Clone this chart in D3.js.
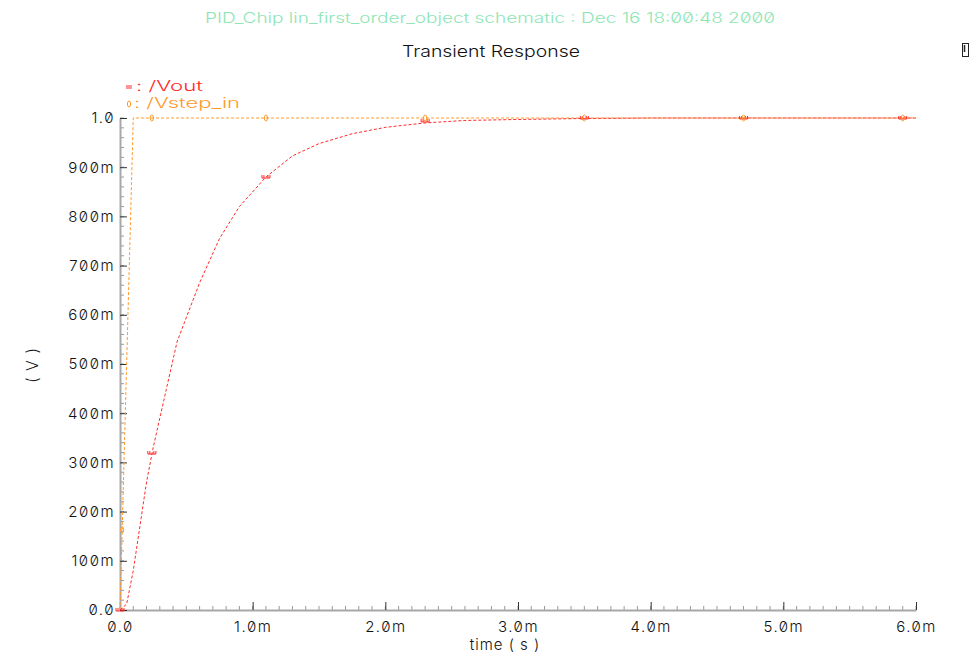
<!DOCTYPE html>
<html>
<head>
<meta charset="utf-8">
<script src="https://cdn.jsdelivr.net/npm/d3@7"></script>
<style>
  body { margin: 0; background: #fff; }
  text { font-family: Inter, "DejaVu Sans", sans-serif; font-weight: 300; font-feature-settings: "zero" 1; }
</style>
</head>
<body>
<script>
// header texts
const header = "PID_Chip lin_first_order_object schematic : Dec 16 18:00:48 2000";
const title = "Transient Response";

// Vout trace (time in ms, volts)
const voutT = [0, 0.05, 0.1, 0.15, 0.2, 0.25, 0.3, 0.43, 0.6, 0.75, 0.9, 1.1, 1.3, 1.5, 1.75, 2.0, 2.3, 2.6, 3.0, 3.5, 4.0, 5.0, 6.0];
const voutV = [0, 0.012, 0.08, 0.17, 0.26, 0.33, 0.39, 0.545, 0.665, 0.755, 0.82, 0.88, 0.923, 0.948, 0.968, 0.981, 0.99, 0.995, 0.997, 0.999, 1.0, 1.0, 1.0];
// Vstep_in trace
const vinT = [0, 0.1, 6.0];
const vinV = [0, 1.0, 1.0];

// marker positions
const voutMarkT = [0, 0.24, 1.1, 2.3, 3.5, 4.7, 5.9];
const voutMarkV = [0, 0.319, 0.88, 0.994, 1.0, 1.0, 1.0];
const vinMarkT = [0.016, 0.24, 1.1, 2.3, 3.5, 4.7, 5.9];
const vinMarkV = [0.163, 1.0, 1.0, 1.0, 1.0, 1.0, 1.0];

// tick labels
const xTicks = [0, 1, 2, 3, 4, 5, 6];
const xTickLabels = ["0.0", "1.0m", "2.0m", "3.0m", "4.0m", "5.0m", "6.0m"];
const yTicks = [0, 0.1, 0.2, 0.3, 0.4, 0.5, 0.6, 0.7, 0.8, 0.9, 1.0];
const yTickLabels = ["0.0", "100m", "200m", "300m", "400m", "500m", "600m", "700m", "800m", "900m", "1.0"];

const w = 977, h = 662;
const red = "#ff2a2a", orange = "#ff9a2a";

let svg = d3.select("body").append("svg")
  .attr("width", w).attr("height", h);

let x = d3.scaleLinear().domain([0, 6]).range([120, 916]);
let y = d3.scaleLinear().domain([0, 1]).range([610, 118]);

// header and title
svg.append("text").attr("x", 490).attr("y", 23)
  .attr("text-anchor", "middle").attr("fill", "#8ee6b4")
  .style("font-size", "14px").attr("textLength", 570).attr("lengthAdjust", "spacingAndGlyphs")
  .text(header);
svg.append("text").attr("x", 491).attr("y", 57)
  .attr("text-anchor", "middle").attr("fill", "#111")
  .style("font-size", "16px").attr("textLength", 178).attr("lengthAdjust", "spacingAndGlyphs")
  .text(title);

// little icon at top right
svg.append("rect").attr("x", 962.5).attr("y", 43.5).attr("width", 6).attr("height", 13)
  .attr("fill", "none").attr("stroke", "#222").attr("stroke-width", 1);
svg.append("line").attr("x1", 964.5).attr("x2", 964.5).attr("y1", 45).attr("y2", 52)
  .attr("stroke", "#222").attr("stroke-width", 1.5);

// minor ticks
let xMinor = d3.range(0, 61).map(d => d / 10);
let yMinor = d3.range(0, 51).map(d => d / 50);
svg.append("g").selectAll("line").data(xMinor).enter().append("line")
  .attr("x1", d => x(d)).attr("x2", d => x(d))
  .attr("y1", 610).attr("y2", 606)
  .attr("stroke", "#999").attr("stroke-width", 1);
svg.append("g").selectAll("line").data(yMinor).enter().append("line")
  .attr("x1", 120).attr("x2", 124)
  .attr("y1", d => y(d)).attr("y2", d => y(d))
  .attr("stroke", "#999").attr("stroke-width", 1);

// axes
let xAxis = d3.axisBottom(x).tickValues(xTicks).tickSizeInner(-8).tickSizeOuter(0)
  .tickPadding(11).tickFormat((d, i) => xTickLabels[i]);
let yAxis = d3.axisLeft(y).tickValues(yTicks).tickSizeInner(-7).tickSizeOuter(0)
  .tickPadding(4).tickFormat((d, i) => yTickLabels[i]);

let gx = svg.append("g").attr("transform", "translate(0,610)").call(xAxis);
let gy = svg.append("g").attr("transform", "translate(120,0)").call(yAxis);
[gx, gy].forEach(function(g) {
  g.select(".domain").attr("stroke", "#a8a8a8").attr("stroke-width", 2);
  g.selectAll(".tick line").attr("stroke", "#333").attr("stroke-width", 1);
  g.selectAll(".tick text").attr("fill", "#111").style("font-size", "15px")
    .style("font-weight", "300").style("letter-spacing", "1.5px");
});
gy.selectAll(".tick text").attr("dx", "-1");

// axis labels
svg.append("text").attr("x", 505).attr("y", 650)
  .attr("text-anchor", "middle").attr("fill", "#111").style("font-size", "15px")
  .style("letter-spacing", "1px").text("time ( s )");
svg.append("text").attr("transform", "translate(38,365) rotate(-90)")
  .attr("text-anchor", "middle").attr("fill", "#111").style("font-size", "16px")
  .style("letter-spacing", "1px").text("( V )");

// traces
let line = d3.line().x(d => x(d[0])).y(d => y(d[1]));
svg.append("path").datum(vinT.map((t, i) => [t, vinV[i]]))
  .attr("d", line).attr("fill", "none").attr("stroke", orange)
  .attr("stroke-width", 1).attr("stroke-dasharray", "3,2");
svg.append("path").datum(voutT.map((t, i) => [t, voutV[i]]))
  .attr("d", line).attr("fill", "none").attr("stroke", red)
  .attr("stroke-width", 1).attr("stroke-dasharray", "3,2");

// markers
function voutMarker(g) {
  g.append("path").attr("d", "M-4,-2 L-4,1 L4,1 L4,-2 M-2,1 L-2,-2 M2,1 L2,-2")
    .attr("fill", "none").attr("stroke", red).attr("stroke-width", 1);
}
function vinMarker(g) {
  g.append("ellipse").attr("rx", 1.6).attr("ry", 3)
    .attr("fill", "none").attr("stroke", orange).attr("stroke-width", 1);
}
voutMarkT.forEach(function(t, i) {
  let g = svg.append("g").attr("transform", "translate(" + x(t) + "," + y(voutMarkV[i]) + ")");
  voutMarker(g);
});
vinMarkT.forEach(function(t, i) {
  let g = svg.append("g").attr("transform", "translate(" + x(t) + "," + y(vinMarkV[i]) + ")");
  vinMarker(g);
});

// legend
let lg1 = svg.append("g").attr("transform", "translate(129,87)");
lg1.append("path").attr("d", "M-3,-1 L3,-1 M-3,1 L3,1")
  .attr("stroke", red).attr("stroke-width", 1);
svg.append("text").attr("x", 136).attr("y", 91).attr("fill", red)
  .style("font-size", "14px").attr("textLength", 67).attr("lengthAdjust", "spacingAndGlyphs")
  .text(": /Vout");
let lg2 = svg.append("g").attr("transform", "translate(129,104)");
vinMarker(lg2);
svg.append("text").attr("x", 134).attr("y", 108).attr("fill", orange)
  .style("font-size", "14px").attr("textLength", 106).attr("lengthAdjust", "spacingAndGlyphs")
  .text(": /Vstep_in");
</script>
</body>
</html>
